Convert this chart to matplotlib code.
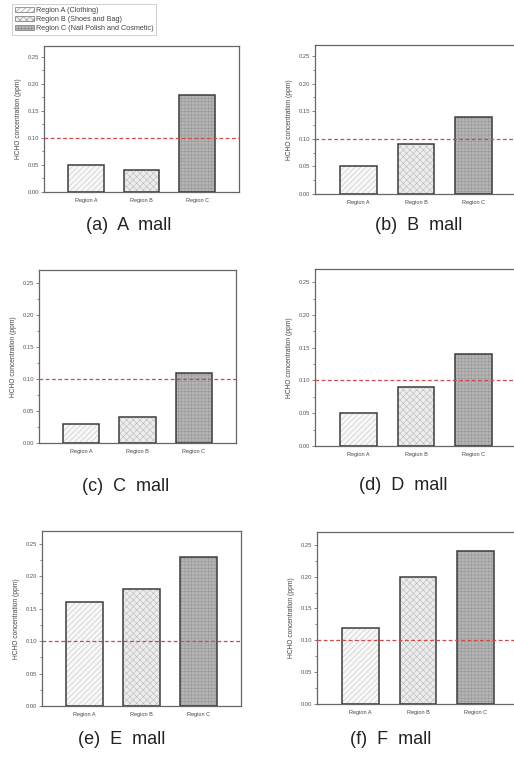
import matplotlib
matplotlib.use('Agg')
import matplotlib.pyplot as plt
from matplotlib.patches import Patch
from matplotlib.ticker import MultipleLocator, AutoMinorLocator

plt.rcParams['font.family'] = ['Liberation Sans', 'DejaVu Sans']
plt.rcParams['hatch.linewidth'] = 0.35

regions = ['Region A', 'Region B', 'Region C']
legend_labels = ['Region A (Clothing)', 'Region B (Shoes and Bag)',
                 'Region C (Nail Polish and Cosmetic)']
captions = ['(a)  A  mall', '(b)  B  mall', '(c)  C  mall',
            '(d)  D  mall', '(e)  E  mall', '(f)  F  mall']
mall_a = [0.05, 0.04, 0.18]
mall_b = [0.05, 0.09, 0.14]
mall_c = [0.03, 0.04, 0.11]
mall_d = [0.05, 0.09, 0.14]
mall_e = [0.16, 0.18, 0.23]
mall_f = [0.12, 0.20, 0.24]
limit = 0.10

values = [mall_a, mall_b, mall_c, mall_d, mall_e, mall_f]

# pixel boxes of each panel (left, top, right, bottom) and caption centres
boxes = [(44, 46, 239, 192), (315, 45, 517, 194),
         (39, 270, 236, 443), (315, 269, 517, 446),
         (42, 531, 241, 706), (317, 532, 519, 704)]
cap_pos = [(129, 226), (419, 226), (126, 487), (403, 486), (122, 740), (391, 740)]

fills = ['#f7f7f7', '#ededed', '#b4b4b4']
hatches = ['//////', 'xxxxx', '+++++']
hatch_cols = ['#bcbcbc', '#b4b4b4', '#959595']

W, H = 514, 757
fig = plt.figure(figsize=(W / 100, H / 100), dpi=100)

for vals, box, cap, cp in zip(values, boxes, captions, cap_pos):
    l, t, r, b = box
    ax = fig.add_axes([l / W, 1 - b / H, (r - l) / W, (b - t) / H])
    x = [1, 2, 3]
    for i in range(3):
        ax.bar(x[i], vals[i], width=0.64, color=fills[i], hatch=hatches[i],
               edgecolor=hatch_cols[i], linewidth=0, zorder=2)
    ax.bar(x, vals, width=0.64, fill=False, edgecolor='#3c3c3c', linewidth=1.1, zorder=3)
    ax.axhline(limit, color='#d04848', linestyle=(0, (3, 2)), linewidth=0.9, zorder=4)
    ax.set_xlim(0.25, 3.75)
    ax.set_ylim(0, 0.27)
    ax.set_xticks(x)
    ax.set_xticklabels(regions, fontsize=4, color='#444')
    ax.tick_params(axis='x', length=0, pad=4)
    ax.yaxis.set_major_locator(MultipleLocator(0.05))
    ax.yaxis.set_minor_locator(AutoMinorLocator(2))
    ax.yaxis.set_major_formatter(matplotlib.ticker.FormatStrFormatter('%.2f'))
    ax.tick_params(axis='y', which='major', length=2.2, width=0.5, labelsize=4.2,
                   colors='#555', pad=1.5)
    ax.tick_params(axis='y', which='minor', length=1.2, width=0.5, colors='#555')
    ax.set_ylabel('HCHO concentration (ppm)', fontsize=4.8, color='#444', labelpad=4)
    for s in ax.spines.values():
        s.set_color('#666')
        s.set_linewidth(0.9)
    fig.text(cp[0] / W, 1 - cp[1] / H, cap, fontsize=13, color='#222',
             ha='center', va='center')

handles = [Patch(facecolor=fills[i], hatch=hatches[i], edgecolor='#888', linewidth=0.6)
           for i in range(3)]
leg = fig.legend(handles, legend_labels, loc='upper left',
                 bbox_to_anchor=(12 / W, 1 - 4 / H), fontsize=5.2,
                 handlelength=2.6, handleheight=0.7, handletextpad=0.3,
                 labelspacing=0.3, borderpad=0.4, fancybox=False,
                 borderaxespad=0)
leg.get_frame().set_edgecolor('#bbb')
leg.get_frame().set_linewidth(0.6)
for txt in leg.get_texts():
    txt.set_color('#444')

fig.savefig('out.png', dpi=100)
